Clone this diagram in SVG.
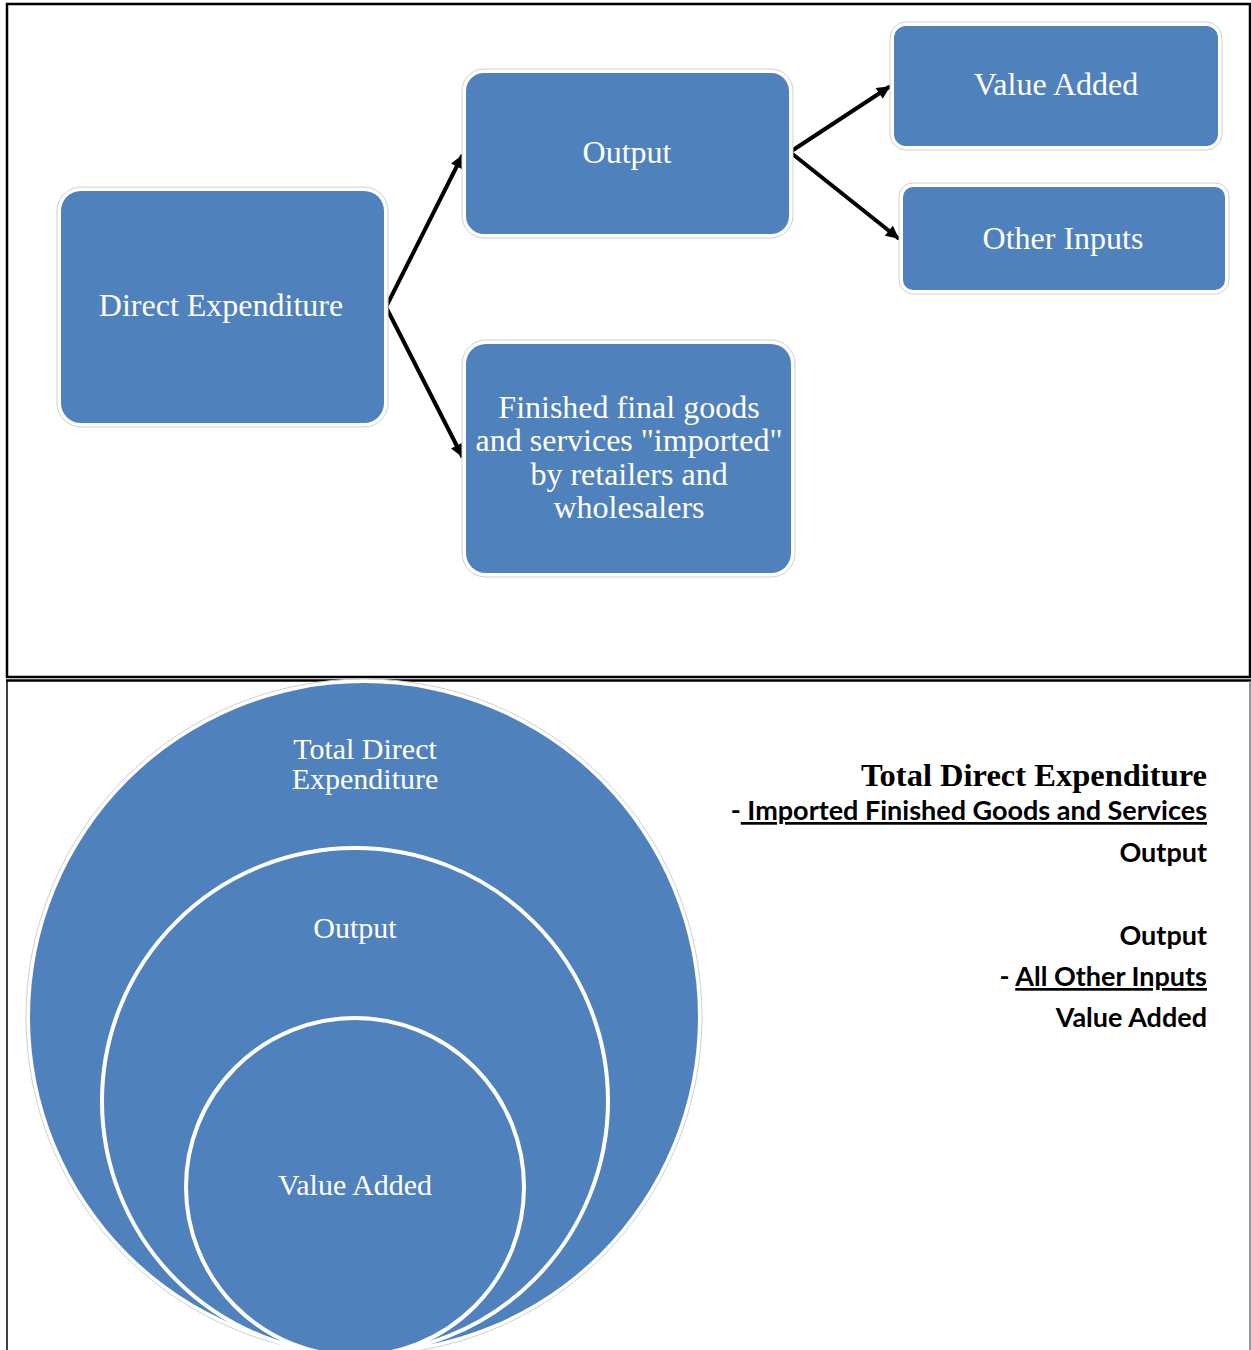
<svg xmlns="http://www.w3.org/2000/svg" width="1251" height="1350" viewBox="0 0 1251 1350">
<defs>
<style>
.halo{fill:#ffffff;stroke:#cfcfcf;stroke-width:1}
.box{fill:#4F81BD}
.bt{font-family:"Liberation Serif","Times New Roman",serif;font-size:32px;fill:#ffffff;text-anchor:middle}
.ct{font-family:"Liberation Serif","Times New Roman",serif;font-size:30px;fill:#ffffff;text-anchor:middle}
.conn{stroke:#000;stroke-width:4;fill:none;stroke-linecap:round}
.rt{font-family:Lato,"Open Sans",sans-serif;font-weight:bold;font-size:27px;fill:#000;text-anchor:end}
</style>
<marker id="ah" viewBox="0 0 10 10" refX="9" refY="5" markerWidth="14" markerHeight="13" markerUnits="userSpaceOnUse" orient="auto">
<path d="M0,0 L10,5 L0,10 z" fill="#000"/>
</marker>
</defs>
<rect x="0" y="0" width="1251" height="1350" fill="#ffffff"/>
<g id="frames">
<rect x="7" y="4" width="1243" height="673" fill="none" stroke="#000" stroke-width="2.5"/>
<line x1="6" y1="680.5" x2="1251" y2="680.5" stroke="#000" stroke-width="2.5"/>
<line x1="7" y1="681" x2="7" y2="1350" stroke="#000" stroke-width="1.5"/>
<line x1="1250" y1="681" x2="1250" y2="1350" stroke="#777" stroke-width="1.5"/>
</g>
<g id="connectors">
<line class="conn" x1="386" y1="307" x2="462" y2="156" marker-end="url(#ah)"/>
<line class="conn" x1="386" y1="307" x2="462" y2="456" marker-end="url(#ah)"/>
<line class="conn" x1="790" y1="152" x2="889" y2="87" marker-end="url(#ah)"/>
<line class="conn" x1="790" y1="152" x2="898" y2="238" marker-end="url(#ah)"/>
</g>
<g id="node-direct-expenditure">
<rect class="halo" x="57" y="187" width="331" height="240" rx="24"/>
<rect class="box" x="61" y="191" width="323" height="232" rx="20"/>
<text class="bt" x="221" y="316">Direct Expenditure</text>
</g>
<g id="node-output">
<rect class="halo" x="462" y="69" width="331" height="169" rx="22"/>
<rect class="box" x="466" y="73" width="323" height="161" rx="18"/>
<text class="bt" x="627" y="163">Output</text>
</g>
<g id="node-finished-goods">
<rect class="halo" x="462" y="340" width="333" height="237" rx="24"/>
<rect class="box" x="466" y="344" width="325" height="229" rx="20"/>
<text class="bt" x="629" y="418">Finished final goods</text>
<text class="bt" x="629" y="451">and services "imported"</text>
<text class="bt" x="629" y="485">by retailers and</text>
<text class="bt" x="629" y="518">wholesalers</text>
</g>
<g id="node-value-added">
<rect class="halo" x="890" y="22" width="332" height="128" rx="16"/>
<rect class="box" x="894" y="26" width="324" height="120" rx="12"/>
<text class="bt" x="1056" y="95">Value Added</text>
</g>
<g id="node-other-inputs">
<rect class="halo" x="899" y="183" width="330" height="111" rx="14"/>
<rect class="box" x="903" y="187" width="322" height="103" rx="10"/>
<text class="bt" x="1063" y="249">Other Inputs</text>
</g>
<g id="circles">
<g id="circle-total">
<circle cx="364" cy="1017" r="338" fill="#ffffff" stroke="#d0d0d0" stroke-width="1"/>
<circle cx="364" cy="1017" r="334" fill="#4F81BD"/>
<text class="ct" x="365" y="759">Total  Direct</text>
<text class="ct" x="365" y="789">Expenditure</text>
</g>
<g id="circle-output">
<circle cx="355" cy="1101" r="253" fill="#4F81BD" stroke="#ffffff" stroke-width="4"/>
<text class="ct" x="355" y="938">Output</text>
</g>
<g id="circle-value-added">
<circle cx="355" cy="1187" r="169" fill="#4F81BD" stroke="#ffffff" stroke-width="4"/>
<text class="ct" x="355" y="1195">Value Added</text>
</g>
</g>
<g id="equations">
<text x="1207" y="786" style="font-family:'Liberation Serif','Times New Roman',serif;font-weight:bold;font-size:32.5px;fill:#000;text-anchor:end">Total Direct Expenditure</text>
<text class="rt" x="1207" y="820">-<tspan text-decoration="underline"> Imported Finished Goods and Services</tspan></text>
<text class="rt" x="1207" y="862">Output</text>
<text class="rt" x="1207" y="945">Output</text>
<text class="rt" x="1207" y="986">- <tspan text-decoration="underline">All Other Inputs</tspan></text>
<text class="rt" x="1207" y="1027">Value Added</text>
</g>
</svg>
